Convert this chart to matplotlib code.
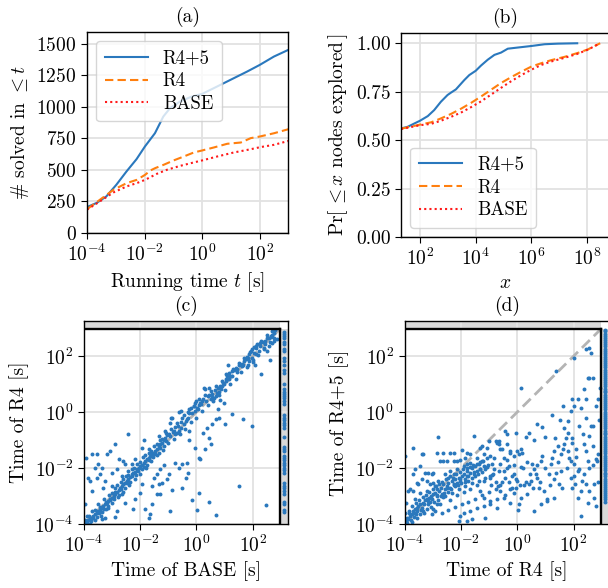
import numpy as np
import matplotlib
matplotlib.use("Agg")
import matplotlib.pyplot as plt
from matplotlib.ticker import FixedLocator, NullLocator

# ---------------- data ----------------
# (a) number of instances solved within time t (t in log10 seconds)
a_r45_logt = [-4.0, -3.67, -3.33, -2.98, -2.63, -2.28, -1.99, -1.64, -1.35, -1.12, -0.77, -0.36, 0.0, 0.40, 0.98, 1.56, 2.0, 2.49, 2.98]
a_r45_solved = [206, 238, 290, 383, 488, 586, 686, 792, 924, 990, 1043, 1083, 1104, 1149, 1215, 1281, 1334, 1400, 1452]
a_r4_logt = [-3.99, -3.55, -3.08, -2.62, -2.27, -1.98, -1.80, -1.63, -1.34, -0.99, -0.64, -0.29, 0.0, 0.41, 0.87, 1.34, 1.69, 2.01, 2.50, 3.0]
a_r4_solved = [190, 264, 343, 396, 422, 462, 496, 515, 541, 576, 607, 639, 655, 679, 708, 718, 753, 766, 792, 824]
a_base_logt = [-4.0, -3.55, -3.08, -2.62, -2.27, -1.98, -1.57, -1.22, -0.76, -0.29, 0.0, 0.52, 1.10, 1.69, 2.01, 2.50, 3.0]
a_base_solved = [185, 251, 322, 370, 396, 422, 470, 502, 533, 560, 576, 607, 639, 665, 681, 700, 731]

# (b) Pr[<= x nodes explored] (x in log10 nodes)
b_r45_logx = [1.32, 1.56, 1.80, 2.0, 2.28, 2.51, 2.75, 2.99, 3.11, 3.29, 3.59, 3.77, 4.0, 4.19, 4.43, 4.67, 4.91, 5.15, 5.51, 6.0, 6.47, 6.95, 7.64]
b_r45_pr = [0.560, 0.569, 0.586, 0.600, 0.624, 0.655, 0.698, 0.733, 0.745, 0.762, 0.810, 0.836, 0.858, 0.885, 0.915, 0.940, 0.952, 0.972, 0.978, 0.986, 0.995, 0.998, 1.0]
b_r4_logx = [1.32, 2.0, 2.40, 2.75, 3.11, 3.47, 3.83, 4.19, 4.55, 4.91, 5.27, 5.63, 6.0, 6.35, 6.71, 7.19, 7.66, 8.02, 8.46]
b_r4_pr = [0.559, 0.580, 0.592, 0.612, 0.635, 0.662, 0.692, 0.725, 0.760, 0.795, 0.825, 0.853, 0.880, 0.897, 0.913, 0.930, 0.950, 0.968, 1.0]
b_base_logx = [1.32, 2.0, 2.40, 2.75, 3.11, 3.47, 3.83, 4.19, 4.55, 4.91, 5.27, 5.63, 6.0, 6.35, 6.71, 7.19, 7.66, 8.02, 8.46]
b_base_pr = [0.557, 0.577, 0.584, 0.600, 0.620, 0.642, 0.670, 0.700, 0.735, 0.770, 0.804, 0.835, 0.864, 0.888, 0.906, 0.925, 0.946, 0.967, 1.0]

timeout_s = 900.0

# (c) (log10 time BASE, log10 time R4) for instances solved by both
c_points_log = [
    (2.80, 2.92), (2.76, 2.83), (2.70, 2.77), (2.64, 2.71), (2.58, 2.65), (2.52, 2.63), (2.44, 2.54), (2.35, 2.51),
    (2.25, 2.46), (2.17, 2.42), (2.11, 2.36), (2.05, 2.32), (1.99, 2.24), (1.93, 2.18), (1.87, 2.06), (1.81, 1.96),
    (1.75, 1.88), (1.69, 1.82), (1.61, 1.73), (1.51, 1.70), (1.39, 1.58), (1.33, 1.52), (1.27, 1.46), (1.15, 1.40),
    (1.11, 1.67), (2.76, 2.65), (2.70, 2.48), (2.58, 2.36), (2.52, 2.18), (2.40, 2.24), (2.23, 2.20), (2.11, 2.06),
    (2.08, 1.70), (1.96, 1.94), (1.87, 1.82), (2.61, 1.85), (2.29, 1.37), (2.01, 1.80), (1.85, 1.70), (1.63, 1.64),
    (1.45, 1.44), (1.21, 1.29), (1.06, 1.35), (1.15, 1.17), (1.06, 1.11), (0.98, 0.99), (0.92, 0.93), (0.86, 0.81),
    (0.80, 0.73), (0.74, 0.69), (0.68, 0.57), (0.62, 0.51), (0.56, 0.65), (0.50, 0.45), (0.42, 0.57), (0.32, 0.81),
    (0.26, 0.87), (0.20, 0.39), (0.14, 0.33), (0.08, 0.27), (0.02, 0.15), (-0.01, 0.39), (-0.04, 0.04), (-0.10, 0.21),
    (-0.18, 0.13), (-0.25, -0.02), (-0.30, -0.20), (-0.37, -0.32), (-0.45, -0.42), (-0.54, 0.04), (-0.61, 0.01),
    (-0.56, -0.56), (-0.63, -0.68), (-0.69, -0.74), (-0.75, -0.80), (-0.81, -0.68), (-0.87, -0.20), (-0.93, -0.38),
    (-0.99, -0.80), (-1.05, -0.82), (-1.11, -0.92), (-1.17, -0.98), (-1.23, -1.10), (-1.29, -1.15), (-1.35, -1.21),
    (-1.40, -1.33), (-1.46, -1.39), (-1.52, -1.45), (-1.58, -1.51), (-1.64, -1.57), (-1.70, -1.63), (-1.76, -1.69),
    (-1.82, -1.75), (-1.88, -1.81), (-1.94, -1.89), (-2.00, -1.93), (-2.06, -1.99), (-2.12, -2.05), (-2.18, -2.13),
    (-2.24, -2.19), (-2.30, -2.23), (-2.36, -2.32), (-2.42, -2.40), (-2.48, -2.46), (-2.54, -2.52), (-2.60, -2.58),
    (-2.65, -2.64), (-2.71, -2.73), (-2.77, -2.80), (-2.83, -2.85), (-2.89, -2.94), (-2.95, -3.00), (-3.01, -3.06),
    (-3.07, -3.12), (-3.13, -3.18), (-3.19, -3.24), (-3.25, -3.30), (-3.31, -3.36), (-3.37, -3.44), (-3.43, -3.51),
    (-3.49, -3.54), (-3.55, -3.60), (-3.61, -3.65), (-3.67, -3.71), (-3.73, -3.77), (-3.79, -3.83), (-3.85, -3.87),
    (-3.90, -3.92), (-3.96, -3.95),
    (-3.9, -3.7), (-3.8, -4.0), (-3.7, -3.55), (-3.6, -3.85), (-3.5, -3.3), (-3.4, -3.7), (-3.3, -3.1), (-3.2, -3.45),
    (-3.1, -2.95), (-3.0, -3.25), (-2.9, -2.7), (-2.8, -3.05), (-2.7, -2.5), (-2.6, -2.85), (-2.5, -2.3), (-2.4, -2.6),
    (-2.3, -2.05), (-2.2, -2.4), (-2.1, -1.85), (-2.0, -2.2), (-1.9, -1.6), (-1.8, -2.0), (-1.7, -1.45), (-1.6, -1.75),
    (-1.5, -1.2), (-1.4, -1.55), (-1.3, -1.0), (-1.2, -1.35), (-1.1, -0.75), (-1.0, -1.1), (-0.9, -0.6), (-0.8, -0.95),
    (-0.7, -0.4), (-0.6, -0.8), (-0.5, -0.2), (-0.4, -0.6), (-0.3, 0.0), (-0.2, -0.35), (-0.1, 0.2), (0.0, -0.2),
    (0.1, 0.45), (0.2, 0.05), (0.3, 0.6), (0.4, 0.25), (0.5, 0.75), (0.6, 0.4), (0.7, 0.95), (0.8, 0.6), (0.9, 1.1),
    (1.0, 0.8), (1.1, 1.3), (1.2, 1.0), (1.3, 1.55), (1.4, 1.2), (1.5, 1.75), (1.6, 1.45), (1.7, 1.95), (1.8, 1.6),
    (1.9, 2.15), (2.0, 1.85), (2.1, 2.3), (2.2, 2.05), (2.3, 2.55), (2.4, 2.3), (2.5, 2.75), (2.6, 2.5), (2.7, 2.9),
    (2.85, 2.6),
    (-3.95, -3.85), (-3.88, -3.95), (-3.82, -3.7), (-3.75, -3.9), (-3.68, -3.8), (-3.62, -3.5), (-3.55, -3.75),
    (-3.48, -3.62), (-3.42, -3.4), (-3.35, -3.58), (-3.28, -3.45), (-3.22, -3.2), (-3.15, -3.35), (-3.08, -3.15),
    (-3.02, -2.9), (-2.95, -3.1), (-2.88, -2.85), (-2.82, -2.6), (-2.75, -2.95), (-2.68, -2.75), (-2.62, -2.4),
    (-2.55, -2.7), (-2.48, -2.55), (-2.42, -2.25), (-2.35, -2.5), (-2.28, -2.3), (-2.22, -2.0), (-2.15, -2.25),
    (-2.08, -2.1), (-2.02, -1.8), (-1.95, -2.05), (-1.88, -1.95), (-1.82, -1.55), (-1.75, -1.9), (-1.68, -1.7),
    (-1.62, -1.4), (-1.55, -1.6), (-1.48, -1.5), (-1.42, -1.15), (-1.35, -1.45), (-1.28, -1.3), (-1.22, -0.95),
    (-1.15, -1.2), (-1.08, -1.05), (-0.95, -0.85), (-0.85, -0.7), (-0.75, -0.55), (-0.65, -0.5), (-0.55, -0.35),
    (-0.45, -0.1), (-0.35, -0.25), (-0.25, 0.1), (-0.15, -0.05), (0.05, 0.1), (0.15, 0.3), (0.25, 0.45), (0.35, 0.4),
    (0.45, 0.6), (0.55, 0.55), (0.65, 0.8), (0.75, 0.85), (0.85, 0.95), (0.95, 1.05), (1.05, 1.2), (1.25, 1.3),
    (1.45, 1.55), (1.65, 1.7), (1.85, 1.95), (2.05, 2.1), (2.25, 2.35), (2.45, 2.45), (2.65, 2.7), (2.75, 2.55),
    (0.82, 0.42), (0.77, 0.10), (1.27, -0.08), (1.65, -0.23), (1.99, -0.50), (1.51, -2.64), (2.49, -3.32), (0.70, -3.69),
    (0.46, -3.20), (0.08, -2.90), (0.02, -3.51), (-0.15, -3.15), (-0.51, -2.70), (-0.87, -2.79), (-0.93, -3.54),
    (-1.23, -2.52), (-1.29, -2.94), (-1.40, -2.94), (-1.58, -3.30), (-1.64, -3.65), (-1.70, -3.77), (-1.82, -3.48),
    (-2.00, -2.88), (-1.94, -2.58), (-2.18, -3.12), (-2.24, -3.48), (-2.54, -3.24), (-2.65, -2.94), (-2.83, -3.54),
    (-2.89, -3.75), (-3.13, -3.42), (-3.25, -3.77), (-3.37, -3.83), (-0.51, -1.87), (-0.33, -1.81), (-0.30, -2.17),
    (-0.39, -2.35), (-0.63, -1.99), (-0.75, -1.81), (-1.05, -2.40), (-1.17, -1.89), (-0.99, -2.23), (-1.29, -2.05),
    (-1.40, -2.23), (-1.52, -2.35), (-1.35, -2.58), (-1.58, -2.64), (0.50, -1.15), (0.44, -0.92), (0.32, -1.33),
    (0.38, -0.56), (0.23, -0.74), (0.14, -1.69), (0.08, -1.63), (-0.04, -1.27), (-0.27, -0.98), (-0.27, -0.68),
    (0.56, -0.44), (0.68, -0.26), (0.80, -0.20), (1.01, -0.42), (0.98, 0.33),
    (-2.45, -0.80), (-2.89, -1.13), (-3.19, -1.51), (-3.07, -1.39), (-3.55, -1.51), (-3.73, -1.51), (-3.94, -1.63),
    (-3.49, -1.87), (-3.61, -1.99), (-3.37, -1.99), (-3.01, -2.17), (-2.77, -1.69), (-2.60, -1.75), (-2.54, -1.87),
    (-2.30, -1.87), (-2.18, -1.69), (-1.94, -1.27), (-1.88, -0.98), (-1.70, -1.33), (-1.35, -0.86), (-1.11, -0.68),
    (-0.89, -0.20), (-0.04, 0.33), (0.44, 0.85), (-3.85, -2.35), (-3.79, -2.46), (-3.73, -2.82), (-3.96, -3.30),
    (-3.55, -2.35), (-3.43, -2.23), (-3.25, -2.46), (-3.31, -2.70), (-3.01, -2.64), (-2.83, -2.05), (-2.65, -2.29),
    (-2.42, -2.11),
]
# (c) log10 time of R4 for instances where BASE timed out
c_r4_log_base_timeout = [2.87, 2.80, 2.71, 2.65, 2.51, 2.42, 2.24, 2.18, 1.92, 1.82, 1.70, 1.49, 1.40, 1.02, 0.81,
                         0.73, 0.65, 0.57, 0.49, 0.39, 0.30, -0.11, -0.20, -0.30, -0.38, -0.46, -0.56, -0.88, -1.25,
                         -1.33, -1.39, -1.57, -1.65, -1.73, -1.81, -1.89, -1.99, -2.08, -2.17, -2.55, -2.64, -2.73,
                         -2.82, -2.92, -3.21, -3.27, -3.51, -3.56]

# (d) (log10 time R4, log10 time R4+5) for instances solved by both
d_points_log = [
    (-3.95, -3.89), (-3.90, -3.77), (-3.87, -3.83), (-3.81, -3.71), (-3.75, -3.65), (-3.71, -3.54), (-3.67, -3.60),
    (-3.64, -3.48), (-3.57, -3.42), (-3.60, -3.65), (-3.51, -3.36), (-3.45, -3.30), (-3.39, -3.42), (-3.36, -3.24),
    (-3.31, -3.30), (-3.27, -3.15), (-3.21, -3.12), (-3.15, -3.18), (-3.12, -3.06), (-3.07, -3.00), (-3.04, -3.12),
    (-2.98, -2.94), (-2.92, -2.88), (-2.86, -3.00), (-2.83, -2.76), (-2.76, -2.82), (-2.71, -2.70), (-2.68, -2.94),
    (-2.62, -2.58), (-2.56, -2.76), (-2.50, -2.64), (-2.44, -2.52), (-2.38, -2.70), (-2.32, -2.46), (-2.26, -2.58),
    (-2.20, -2.40), (-2.14, -2.52), (-2.08, -2.35), (-2.02, -2.46), (-1.96, -2.29), (-1.90, -2.23), (-1.85, -2.40),
    (-1.79, -2.11), (-1.73, -2.29), (-1.67, -2.17), (-1.61, -1.99), (-1.55, -2.23), (-1.49, -1.93), (-1.43, -2.11),
    (-1.37, -1.87), (-1.31, -2.05), (-1.25, -1.75), (-1.19, -1.93), (-3.69, -2.82), (-3.45, -2.88), (-3.21, -2.82),
    (-3.64, -3.12), (-3.33, -3.54), (-3.10, -3.20), (-2.98, -3.45), (-2.86, -2.95), (-2.74, -3.30), (-2.62, -3.05),
    (-2.50, -2.70), (-2.38, -3.15), (-2.26, -2.60), (-2.14, -2.95), (-2.02, -2.40), (-1.90, -2.85), (-1.79, -2.30),
    (-1.67, -2.75), (-1.55, -2.15), (-1.43, -2.60), (-1.31, -2.05), (-1.19, -2.45), (-1.07, -1.95), (-0.95, -2.35),
    (-3.93, -3.24), (-3.99, -1.57), (-3.83, -3.54), (-3.75, -3.92), (-3.57, -3.77), (-3.45, -3.65), (-3.21, -3.48),
    (-3.04, -3.65), (-2.92, -3.54), (-2.80, -3.15), (-2.68, -3.60), (-2.56, -3.00), (-2.44, -3.50), (-2.32, -2.90),
    (-2.20, -3.40), (-2.08, -2.75), (-1.96, -3.30), (-1.85, -2.65), (-1.73, -3.20), (-1.61, -2.55), (-1.49, -3.10),
    (-1.37, -2.45), (-1.25, -2.95), (-1.13, -2.35), (-1.01, -2.85), (-0.89, -2.25), (-0.77, -2.75), (-0.65, -2.10),
    (-0.60, -2.60), (-2.02, -3.71), (-1.79, -3.89), (-1.61, -3.83), (-2.08, -3.89), (-1.90, -3.60), (-1.67, -3.54),
    (-1.43, -3.42), (-1.19, -3.36), (-1.13, -3.77), (-0.95, -3.18), (-0.71, -3.12), (-0.60, -2.82), (-0.48, -2.10),
    (-0.42, -2.95), (-0.36, -1.70), (-0.30, -2.50), (-0.24, -1.45), (-0.18, -2.70), (-0.12, -1.90), (-0.06, -2.40),
    (0.00, -1.39), (0.06, -1.51), (0.12, -1.33), (0.18, -1.45), (-0.24, -3.24), (0.02, -3.51), (0.06, -3.30),
    (-0.12, -2.88), (-0.06, -2.70), (0.00, -2.46), (0.12, -1.95), (0.24, -2.60), (0.36, -1.80), (0.42, -2.58),
    (0.48, -2.46), (0.54, -1.87), (0.60, -2.05), (0.65, -2.23), (0.71, -2.35), (0.77, -2.70), (0.83, -1.75),
    (0.89, -1.57), (0.95, -2.82), (1.07, -3.18), (1.13, -2.23), (1.19, -1.87), (1.25, -1.63), (1.31, -1.39),
    (1.33, -0.92), (1.37, -2.17), (1.43, -1.21), (1.49, -2.58), (1.55, -1.51), (1.61, -1.33), (1.67, -1.15),
    (1.73, -0.92), (1.79, -0.74), (1.85, -1.63), (1.90, -1.75), (1.93, -1.10), (1.96, -0.92), (2.00, -2.29),
    (2.02, -1.87), (2.05, -2.58), (2.08, -1.33), (2.14, -3.06), (2.20, -2.05), (2.26, -3.71), (2.32, -0.80),
    (2.36, -1.15), (2.38, -2.23), (2.44, -1.39), (2.50, -1.75), (2.54, -2.82), (2.56, -0.86), (2.62, -0.50),
    (2.68, -1.21), (2.71, -2.58), (2.74, -3.06), (2.80, -1.69), (2.83, -1.75), (2.86, -1.51), (2.80, -3.36),
    (2.50, -3.24), (2.26, -2.82), (2.44, -2.58), (2.14, -2.11), (1.90, -2.35), (1.79, -1.39), (1.55, -2.11),
    (1.31, -3.06), (1.07, -3.12), (0.83, -3.30), (0.60, -3.54), (0.36, -2.94), (0.12, -3.06), (-0.24, -2.76),
    (-0.48, -3.06), (-0.71, -3.42), (-0.95, -3.30), (-1.19, -3.06), (-1.31, -2.82), (-1.07, -1.63), (-0.83, -1.63),
    (-0.71, -1.10), (-0.65, -1.15), (-0.54, -1.33), (-0.42, -0.68), (-0.36, -0.80), (-0.06, -0.74), (0.42, -0.74),
    (0.71, -0.42), (0.89, -0.54), (1.25, -0.11), (1.61, 0.21), (1.67, -0.56), (1.79, -0.32), (1.90, 0.04),
    (1.96, 0.45), (2.02, 0.21), (2.14, 0.45), (2.26, 0.15), (2.38, 0.81), (2.44, 0.45), (2.50, 1.23), (2.56, 1.23),
    (2.68, 1.23), (2.80, 0.21), (2.86, 0.45), (2.92, 0.87), (2.68, -0.50), (2.62, 2.12), (2.56, 2.30), (2.44, 2.24),
    (2.02, 1.94), (1.37, 1.46), (0.14, 0.87), (-2.80, -0.89), (-3.69, -1.30), (-3.39, -1.51), (-3.33, -1.51),
    (-2.83, -1.45), (-2.62, -1.45), (-2.38, -1.45), (-2.26, -1.45), (-1.96, -1.37), (-1.79, -1.45), (-1.55, -0.86),
    (-1.31, -1.27), (-1.25, -1.21), (-1.07, -1.27), (-1.01, -1.04), (-0.77, -1.04), (-0.65, -1.04), (-0.60, -1.33),
    (-0.36, -1.15), (-0.24, -1.39), (-0.12, -1.57), (-1.43, -1.63), (-1.67, -1.51), (-1.85, -1.63), (-2.02, -1.73),
    (-2.14, -1.75), (-2.26, -1.75), (-2.50, -1.75), (-2.62, -1.75), (-2.74, -1.75), (-2.98, -2.17), (-3.04, -2.23),
    (-3.15, -2.17), (-3.27, -2.17), (-3.45, -1.93), (-3.64, -2.05), (-3.69, -2.23), (-3.87, -2.82), (-3.81, -2.76),
    (-3.57, -2.52), (-3.51, -2.58), (-3.39, -2.40), (-3.21, -2.46), (-3.10, -2.58), (-2.98, -2.52), (-2.92, -2.64),
    (-2.80, -2.46), (-2.56, -2.23), (-2.44, -2.35), (-2.38, -2.11), (-2.26, -2.23), (-2.14, -2.05), (-1.90, -1.93),
    (-1.79, -1.87), (-1.67, -1.81), (-1.19, -1.51), (-0.95, -1.57), (-0.89, -1.87), (-0.83, -2.05), (-0.60, -1.87),
    (-0.48, -1.63), (-0.30, -1.93),
    (-3.97, -3.6), (-3.92, -3.95), (-3.85, -3.62), (-3.78, -3.85), (-3.72, -3.35), (-3.66, -3.75), (-3.6, -3.25),
    (-3.55, -3.55), (-3.48, -3.15), (-3.42, -3.5), (-3.35, -3.05), (-3.3, -3.6), (-3.25, -2.95), (-3.18, -3.3),
    (-3.12, -2.85), (-3.05, -3.4), (-3.0, -2.75), (-2.95, -3.2), (-2.9, -2.65), (-2.85, -3.3), (-2.78, -2.58),
    (-2.72, -3.0), (-2.66, -2.5), (-2.6, -2.9), (-2.52, -2.4), (-2.46, -2.85), (-2.4, -2.3), (-2.34, -2.75),
    (-2.28, -2.35), (-2.22, -2.65), (-2.16, -2.2), (-2.1, -2.6), (-2.04, -2.15), (-1.98, -2.55), (-1.92, -2.05),
    (-1.86, -2.5), (-1.8, -2.0), (-1.74, -2.45), (-1.68, -1.95), (-1.62, -2.35), (-1.56, -1.9), (-1.5, -2.3),
    (-1.44, -1.85), (-1.38, -2.2), (-1.32, -1.8), (-1.26, -2.15), (-1.2, -1.75), (-1.14, -2.05), (-1.05, -1.9),
    (-0.98, -2.3), (-0.92, -2.6), (-0.85, -2.2), (-0.75, -2.5), (-0.68, -2.65), (-0.55, -2.5), (-0.45, -2.35),
    (-0.35, -2.0), (-0.2, -2.3), (-0.1, -2.2), (0.1, -2.6), (0.2, -2.0), (0.3, -2.5), (0.45, -2.2), (0.55, -2.7),
    (0.7, -1.9), (0.8, -2.5), (1.0, -2.0), (1.15, -2.6), (1.3, -2.4), (1.45, -1.8), (1.6, -2.7), (1.75, -2.0),
    (1.95, -2.7), (2.1, -1.6), (2.3, -2.45), (2.55, -2.0), (2.7, -1.9), (2.85, -2.5), (2.9, -0.3), (2.45, -0.2),
    (2.2, -0.5), (1.5, -0.3), (1.0, -0.9), (0.6, -1.0), (0.3, -0.9),
]
# (d) log10 time of R4+5 for instances where R4 timed out
d_r45_log_r4_timeout = [2.95, 2.88, 2.80, 2.73, 2.65, 2.58, 2.50, 2.42, 2.35, 2.27, 2.20, 2.12, 2.05, 1.97, 1.90, 1.82,
                        1.74, 1.67, 1.60, 1.52, 1.44, 1.37, 1.30, 1.22, 1.14, 1.07, 1.00, 0.92, 0.84, 0.77, 0.70, 0.62,
                        0.54, 0.47, 0.40, 0.32, 0.24, 0.17, 0.10, 0.02, -0.06, -0.13, -0.20, -0.28, -0.36, -0.43,
                        -0.50, -0.58, -0.66, -0.73, -0.80, -0.88, -0.96, -1.03, -1.10, -1.18, -1.26, -1.33, -1.40,
                        -1.48, -1.56, -1.63, -1.70, -1.78, -1.86, -1.93, -2.00, -2.08, -2.16, -2.23, -2.30, -2.38,
                        -2.46, -2.53, -2.60, -2.68, -2.76, -2.83, -2.90, -2.98, -3.05, -3.12, -3.20]

labels = ["R4+5", "R4", "BASE"]

# ---------------- style ----------------
plt.rcParams.update({
    "font.family": ["cmr10", "DejaVu Serif"],
    "mathtext.fontset": "cm",
    "axes.formatter.use_mathtext": True,
    "font.size": 14,
    "axes.linewidth": 1.0,
    "grid.color": "#e2e2e2",
    "grid.linewidth": 1.3,
    "xtick.direction": "out",
    "ytick.direction": "out",
    "xtick.major.size": 4,
    "ytick.major.size": 4,
})

W, H = 608, 588
fig = plt.figure(figsize=(W / 100, H / 100), dpi=100)


def px_axes(left, top, right, bottom):
    return fig.add_axes([left / W, 1 - bottom / H, (right - left) / W, (bottom - top) / H])


BLUE = "#2a78bd"
ORANGE = "#ff7f0e"
RED = "#ff1a1a"
FS = 14
LEG = dict(fontsize=13.5, handlelength=2.3, labelspacing=0.25, borderpad=0.45, handletextpad=0.8)

# ---------------- (a) ----------------
ax = px_axes(87, 32, 288, 233)
ax.plot(10 ** np.array(a_r45_logt), a_r45_solved, color=BLUE, lw=1.5, label=labels[0])
ax.plot(10 ** np.array(a_r4_logt), a_r4_solved, color=ORANGE, lw=1.5, ls=(0, (4, 2)), label=labels[1])
ax.plot(10 ** np.array(a_base_logt), a_base_solved, color=RED, lw=1.5, ls=(0, (1, 1.5)), label=labels[2])
ax.set_xscale("log")
ax.set_xlim(1e-4, 10 ** 2.98)
ax.set_ylim(0, 1595)
ax.xaxis.set_major_locator(FixedLocator([1e-4, 1e-2, 1e0, 1e2]))
ax.xaxis.set_minor_locator(NullLocator())
ax.set_yticks([0, 250, 500, 750, 1000, 1250, 1500])
ax.grid(True)
ax.set_axisbelow(True)
ax.set_xlabel(r"Running time $t$ [s]", fontsize=FS)
ax.set_ylabel(r"# solved in $\leq t$", fontsize=FS)
ax.set_title("(a)", fontsize=FS, pad=7)
ax.tick_params(labelsize=FS)
ax.legend(loc="upper left", **LEG)

# ---------------- (b) ----------------
ax = px_axes(401, 33, 609, 237)
ax.plot(10 ** np.array(b_r45_logx), b_r45_pr, color=BLUE, lw=1.5, label=labels[0])
ax.plot(10 ** np.array(b_r4_logx), b_r4_pr, color=ORANGE, lw=1.5, ls=(0, (4, 2)), label=labels[1])
ax.plot(10 ** np.array(b_base_logx), b_base_pr, color=RED, lw=1.5, ls=(0, (1, 1.5)), label=labels[2])
ax.set_xscale("log")
ax.set_xlim(10 ** 1.32, 10 ** 8.78)
ax.set_ylim(0, 1.053)
ax.xaxis.set_major_locator(FixedLocator([1e2, 1e4, 1e6, 1e8]))
ax.xaxis.set_minor_locator(NullLocator())
ax.set_yticks([0, 0.25, 0.5, 0.75, 1.0])
ax.set_yticklabels(["0.00", "0.25", "0.50", "0.75", "1.00"])
ax.grid(True)
ax.set_axisbelow(True)
ax.set_xlabel(r"$x$", fontsize=FS)
ax.set_ylabel(r"$\Pr[\,\leq x$ nodes explored$\,]$", fontsize=FS)
ax.set_title("(b)", fontsize=FS, pad=7)
ax.tick_params(labelsize=FS)
ax.legend(loc="lower left", **LEG)


# ---------------- (c), (d) ----------------
def scatter_panel(ax, pts_log, timeout_col_log, xlabel, ylabel, title):
    lo, hi = 1e-4, 2 * timeout_s
    T = timeout_s
    pts = 10 ** np.array(pts_log)
    ax.set_xscale("log")
    ax.set_yscale("log")
    ax.set_xlim(lo, hi)
    ax.set_ylim(lo, hi)
    ax.fill_between([lo, T], [T, T], [hi, hi], color="#d8d8d8", lw=0, zorder=0.5)
    ax.fill_betweenx([lo, T], [T, T], [hi, hi], color="#d8d8d8", lw=0, zorder=0.5)
    ax.plot([lo, T], [lo, T], ls=(0, (4, 2)), color="#b4b4b4", lw=2.0, zorder=1)
    ax.scatter(pts[:, 0], pts[:, 1], s=8, color=BLUE, linewidths=0, zorder=2)
    col = 10 ** np.array(timeout_col_log)
    ax.scatter(np.full(len(col), 1.4 * T), col, s=8, color=BLUE, linewidths=0, zorder=2)
    ax.plot([lo, T], [T, T], color="black", lw=1.7, zorder=3)
    ax.plot([T, T], [lo, T], color="black", lw=1.7, zorder=3)
    for axis in (ax.xaxis, ax.yaxis):
        axis.set_major_locator(FixedLocator([1e-4, 1e-2, 1e0, 1e2]))
        axis.set_minor_locator(NullLocator())
    ax.grid(True, zorder=0)
    ax.set_axisbelow(True)
    ax.set_xlabel(xlabel, fontsize=FS)
    ax.set_ylabel(ylabel, fontsize=FS)
    ax.set_title(title, fontsize=FS, pad=7)
    ax.tick_params(labelsize=FS)


ax = px_axes(84, 321, 288, 524)
scatter_panel(ax, c_points_log, c_r4_log_base_timeout, "Time of BASE [s]", "Time of R4 [s]", "(c)")
ax = px_axes(404.5, 321, 609, 524)
scatter_panel(ax, d_points_log, d_r45_log_r4_timeout, "Time of R4 [s]", "Time of R4+5 [s]", "(d)")

fig.savefig("out.png", dpi=100)
